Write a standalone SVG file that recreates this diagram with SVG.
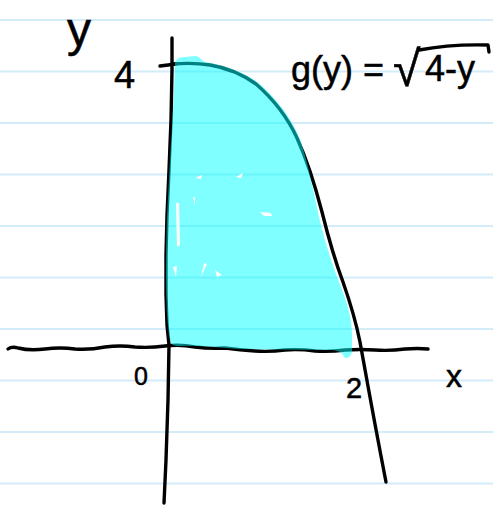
<svg xmlns="http://www.w3.org/2000/svg" width="493" height="505" viewBox="0 0 493 505">
<style>
.rule{stroke:#d4ebf9;stroke-width:2;fill:none}
.ink{stroke:#000;stroke-width:3.4;fill:none;stroke-linecap:round;stroke-linejoin:round}
.lbl{font-family:"Liberation Sans","DejaVu Sans",sans-serif;fill:#000;stroke:#000;stroke-width:0.5}
.gap{fill:#fff}
</style>
<rect width="493" height="505" fill="#fff"/>
<g id="paper">
<line class="rule" x1="0" y1="20" x2="493" y2="20"/>
<line class="rule" x1="0" y1="71.5" x2="493" y2="71.5"/>
<line class="rule" x1="0" y1="123" x2="493" y2="123"/>
<line class="rule" x1="0" y1="174.5" x2="493" y2="174.5"/>
<line class="rule" x1="0" y1="226" x2="493" y2="226"/>
<line class="rule" x1="0" y1="277.5" x2="493" y2="277.5"/>
<line class="rule" x1="0" y1="329" x2="493" y2="329"/>
<line class="rule" x1="0" y1="380.5" x2="493" y2="380.5"/>
<line class="rule" x1="0" y1="432" x2="493" y2="432"/>
<line class="rule" x1="0" y1="483.5" x2="493" y2="483.5"/>
</g>
<g id="axes">
<path id="y-axis" class="ink" d="M172,38 L172,70 L171,120 L169,170 L167,215 L166,255 L166,295 L167,325 L169,345 L168,400 L166,460 L164,503"/>
<path id="y-tick" class="ink" d="M160,66 L176,64"/>
<path id="x-axis" class="ink" d="M8,349 Q12,346 18,348 Q30,351 45,349 Q60,347 75,349 Q90,350 105,347 Q120,345 135,347 Q150,348 165,346 Q180,344 195,347 Q210,349 225,348 Q240,350 255,351 Q270,352 285,350 Q300,349 315,351 Q330,352 345,350 Q360,349 375,350 Q390,351 405,349 Q418,348 428,349"/>
</g>
<g id="curve">
<path class="ink" d="M172,64 C185,63 198,63 210,65 C228,68 242,74 256,84 C272,98 286,114 297,138 C307,160 315,185 322,212 C328,236 334,258 343,282 C350,302 356,322 360,342 C366,375 373,415 386,482"/>
</g>
<g id="region">
<path fill="#00ffff" fill-opacity="0.5" d="M175,64 C175,60 178,57 185,57 L196,56 C200,57 201,60 205,62 C230,66 250,75 262,86 C282,104 296,126 302,145 C308,165 313,188 317,208 C322,232 330,258 339,282 C347,302 352,318 352,335 L352,352 C351,356 349,358 345,358 C342,352 338,350 330,350 C300,350 270,349 240,349 C220,348 200,345 180,346 C172,346 170,344 169,335 C167,320 166,300 166,270 C166,240 167,210 169,180 C171,140 174,100 175,64 Z"/>
<g id="specks">
<polygon class="gap" points="195,178 202,175 201,179"/>
<polygon class="gap" points="236,177 243,173 241,178"/>
<polygon class="gap" points="176,203 179,203 180,245 177,247"/>
<polygon class="gap" points="260,212 271,213 272,216 264,216"/>
<polygon class="gap" points="173,267 177,266 176,277"/>
<polygon class="gap" points="204,263 207,264 201,277"/>
<polygon class="gap" points="215,270 222,275 217,277"/>
<polygon class="gap" points="193,197 195,197 195,206"/>
</g>
</g>
<g id="labels">
<text class="lbl" x="67" y="46" font-size="48">y</text>
<text class="lbl" x="114" y="88" font-size="38">4</text>
<text class="lbl" x="134" y="385" font-size="25">0</text>
<text class="lbl" x="346" y="398" font-size="29">2</text>
<text class="lbl" x="446" y="387" font-size="32">x</text>
<text class="lbl" x="291" y="82" font-size="36">g(y) =</text>
<text class="lbl" x="393" y="86" font-size="50">√</text>
<path class="ink" d="M419,50 Q450,44 488,45 L489,52" stroke-width="3"/>
<text class="lbl" x="425" y="81" font-size="36">4-y</text>
</g>
</svg>
